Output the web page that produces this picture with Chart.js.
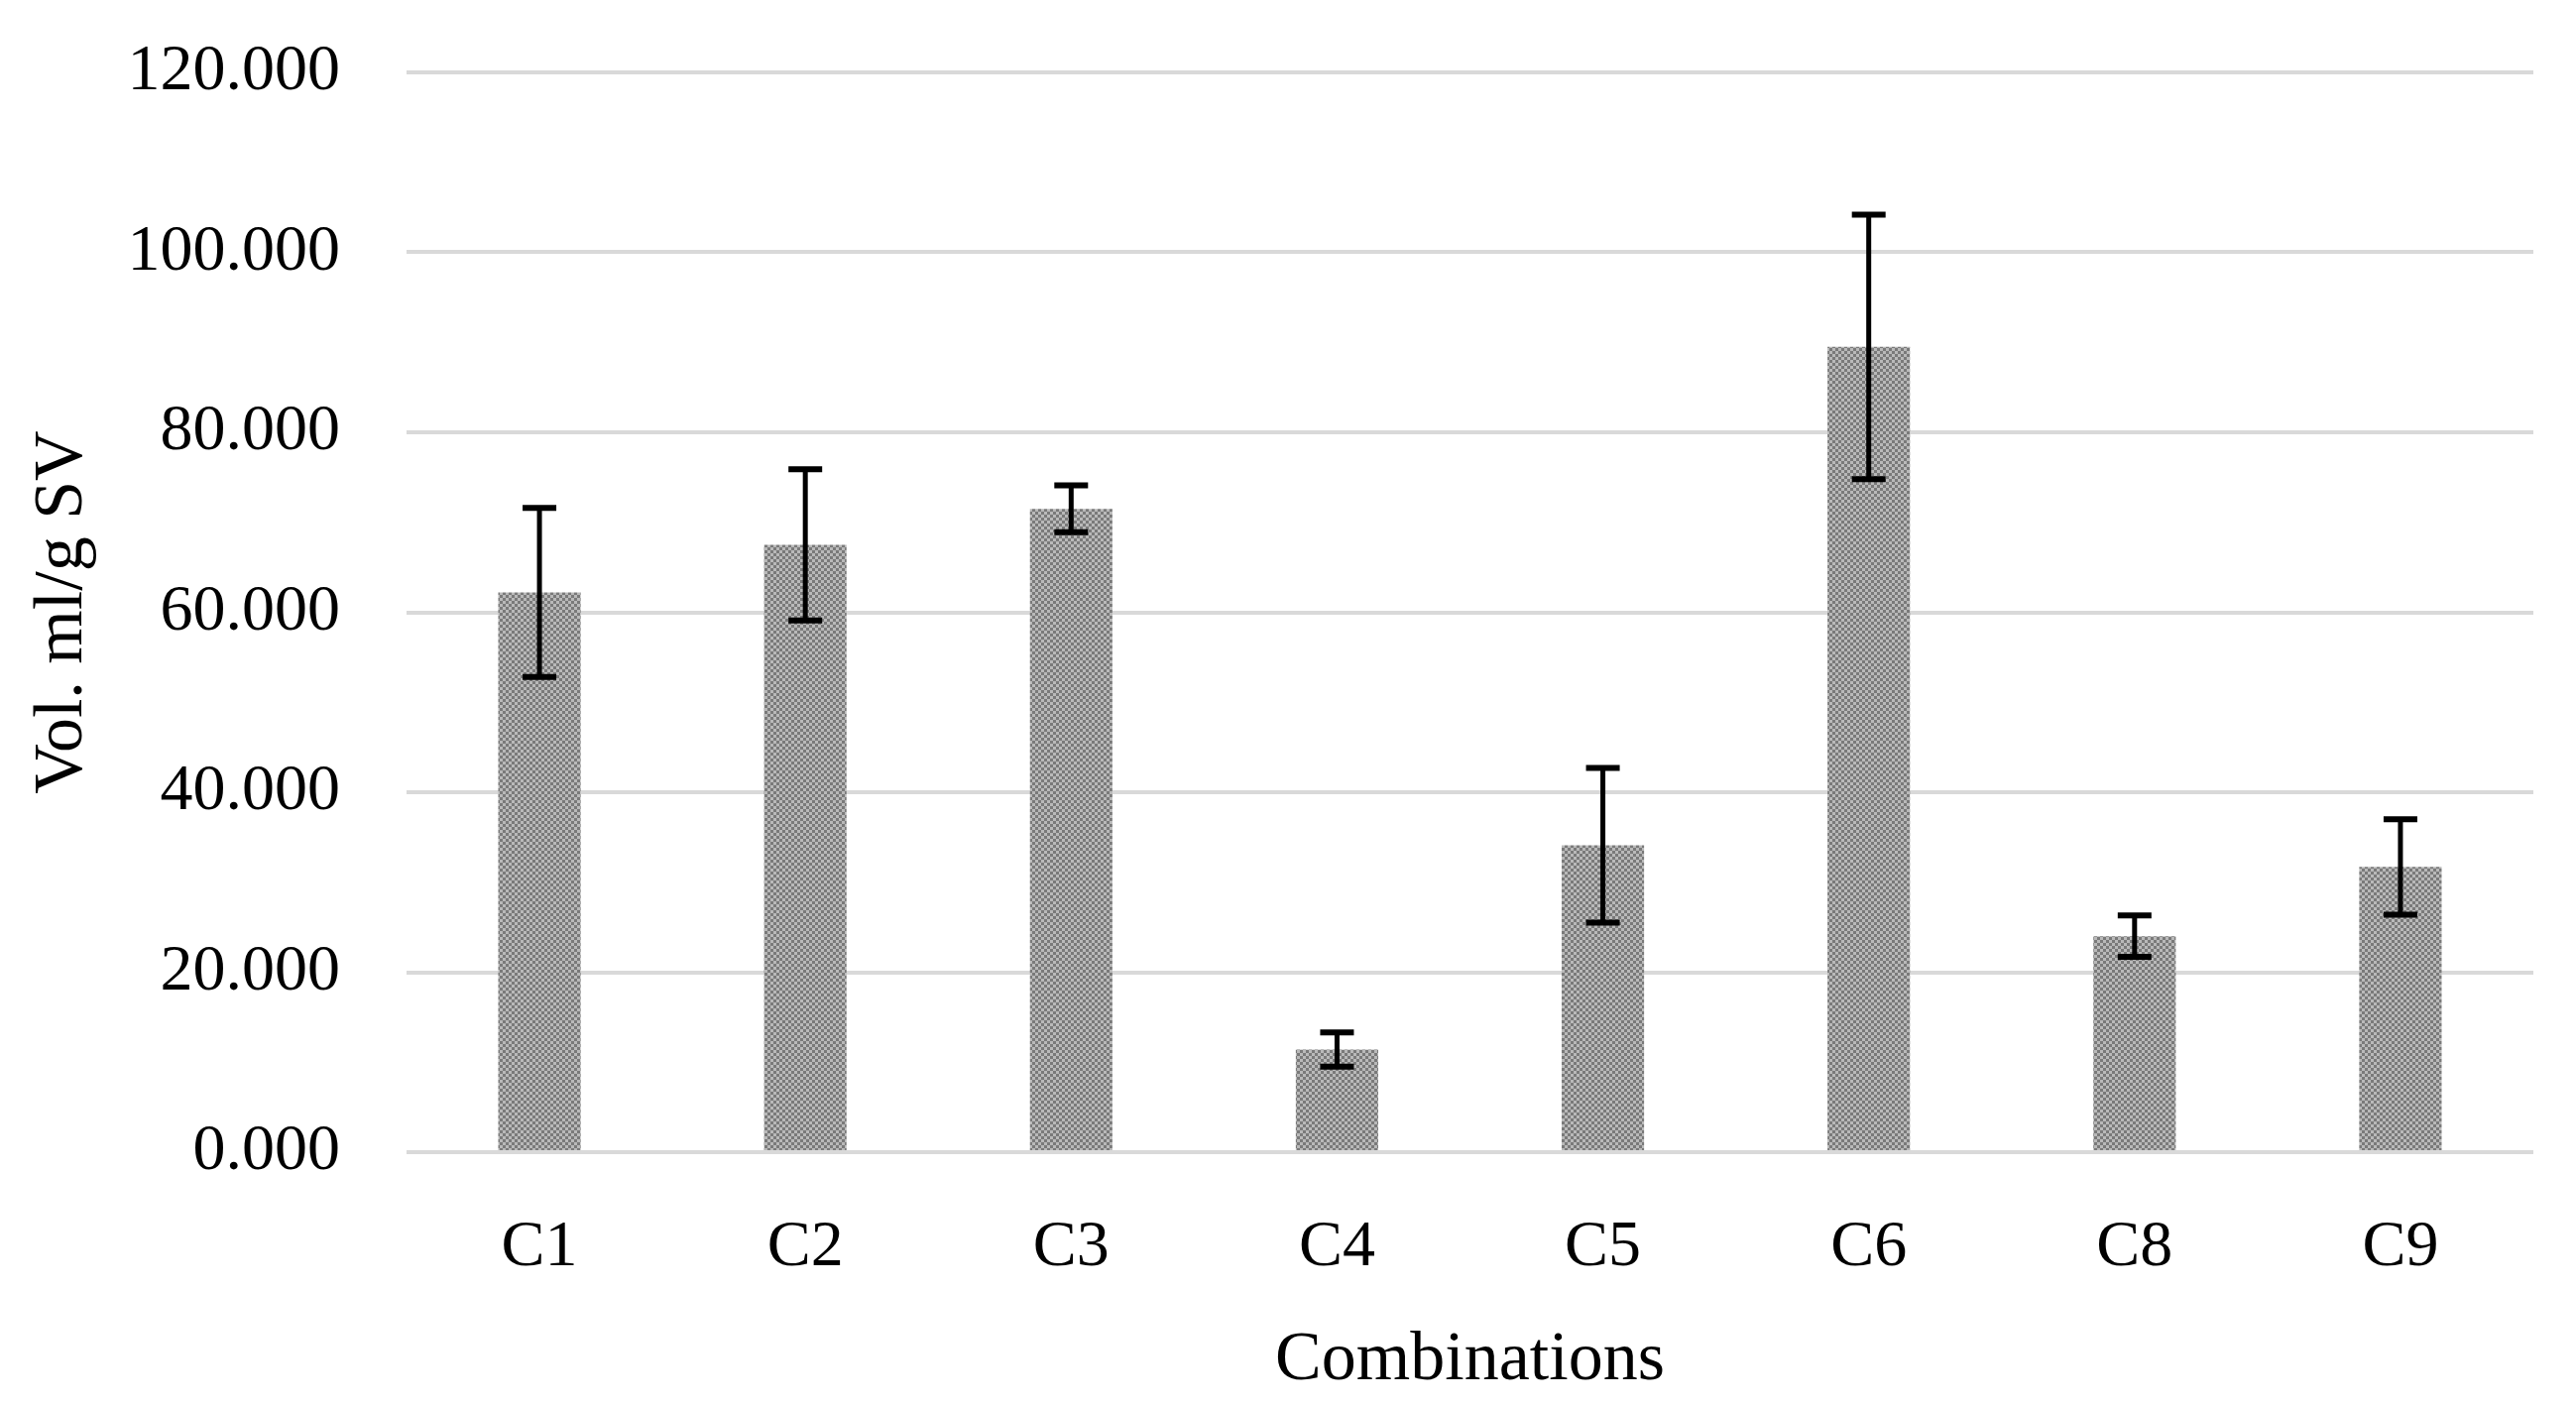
<!DOCTYPE html>
<html>
<head>
<meta charset="utf-8">
<script src="https://cdn.jsdelivr.net/npm/chart.js@4.4.1/dist/chart.umd.min.js"></script>
<style>
  html, body { margin: 0; padding: 0; background: #ffffff; }
  canvas { display: block; }
</style>
</head>
<body>
<canvas id="c" width="2598" height="1418"></canvas>
<script>
const categories = ['C1', 'C2', 'C3', 'C4', 'C5', 'C6', 'C8', 'C9'];
const values = [62.2, 67.5, 71.5, 11.4, 34.1, 89.5, 24.0, 31.7];
const errors = [9.4, 8.4, 2.6, 1.9, 8.6, 14.7, 2.3, 5.3];
const yTicks = [0, 20, 40, 60, 80, 100, 120];

function makePattern() {
  const p = document.createElement('canvas');
  p.width = 6; p.height = 6;
  const g = p.getContext('2d');
  g.fillStyle = '#b9b9b9';
  g.fillRect(0, 0, 6, 6);
  g.fillStyle = '#7a7a7a';
  g.fillRect(0, 0, 3, 3);
  g.fillRect(3, 3, 3, 3);
  return g.createPattern(p, 'repeat');
}

const errorBars = {
  id: 'errorBars',
  afterDatasetsDraw(chart) {
    const ctx = chart.ctx;
    const meta = chart.getDatasetMeta(0);
    const y = chart.scales.y;
    ctx.save();
    ctx.strokeStyle = '#000000';
    ctx.lineCap = 'butt';
    meta.data.forEach((bar, i) => {
      const x = bar.x;
      const yt = y.getPixelForValue(values[i] + errors[i]);
      const yb = y.getPixelForValue(values[i] - errors[i]);
      const half = 17;
      ctx.lineWidth = 5;
      ctx.beginPath();
      ctx.moveTo(x, yt); ctx.lineTo(x, yb);
      ctx.stroke();
      ctx.lineWidth = 6;
      ctx.beginPath();
      ctx.moveTo(x - half, yt); ctx.lineTo(x + half, yt);
      ctx.moveTo(x - half, yb); ctx.lineTo(x + half, yb);
      ctx.stroke();
    });
    ctx.restore();
  }
};

const ctx = document.getElementById('c').getContext('2d');
new Chart(ctx, {
  type: 'bar',
  data: {
    labels: categories,
    datasets: [{
      data: values,
      backgroundColor: makePattern(),
      borderWidth: 0,
      barPercentage: 0.31,
      categoryPercentage: 1.0
    }]
  },
  options: {
    responsive: false,
    devicePixelRatio: 1,
    animation: false,
    layout: { autoPadding: false, padding: { top: 73, right: 43, left: 0, bottom: 0 } },
    plugins: { legend: { display: false }, tooltip: { enabled: false } },
    scales: {
      x: {
        grid: { display: false, drawTicks: false },
        border: { display: false },
        ticks: {
          color: '#000000',
          padding: 64,
          font: { family: 'Liberation Serif', size: 66, lineHeight: 1 }
        },
        title: {
          display: true,
          text: 'Combinations',
          color: '#000000',
          padding: { top: 0, bottom: 10 },
          font: { family: 'Liberation Serif', size: 70, lineHeight: 1 }
        },
        afterFit(scale) { scale.height = 256; scale.paddingLeft = 0; scale.paddingRight = 0; }
      },
      y: {
        min: 0,
        max: 120,
        afterBuildTicks(scale) { scale.ticks = yTicks.map(v => ({ value: v })); },
        grid: { color: '#d9d9d9', lineWidth: 4, drawTicks: false },
        border: { display: false },
        ticks: {
          color: '#000000',
          padding: 67,
          font: { family: 'Liberation Serif', size: 66, lineHeight: 1 },
          callback: (v) => Number(v).toFixed(3)
        },
        title: {
          display: true,
          text: 'Vol. ml/g SV',
          color: '#000000',
          padding: { top: 29, bottom: 0 },
          font: { family: 'Liberation Serif', size: 70, lineHeight: 1 }
        },
        afterFit(scale) { scale.width = 410; scale.paddingTop = 0; scale.paddingBottom = 0; }
      }
    }
  },
  plugins: [errorBars]
});
</script>
</body>
</html>
